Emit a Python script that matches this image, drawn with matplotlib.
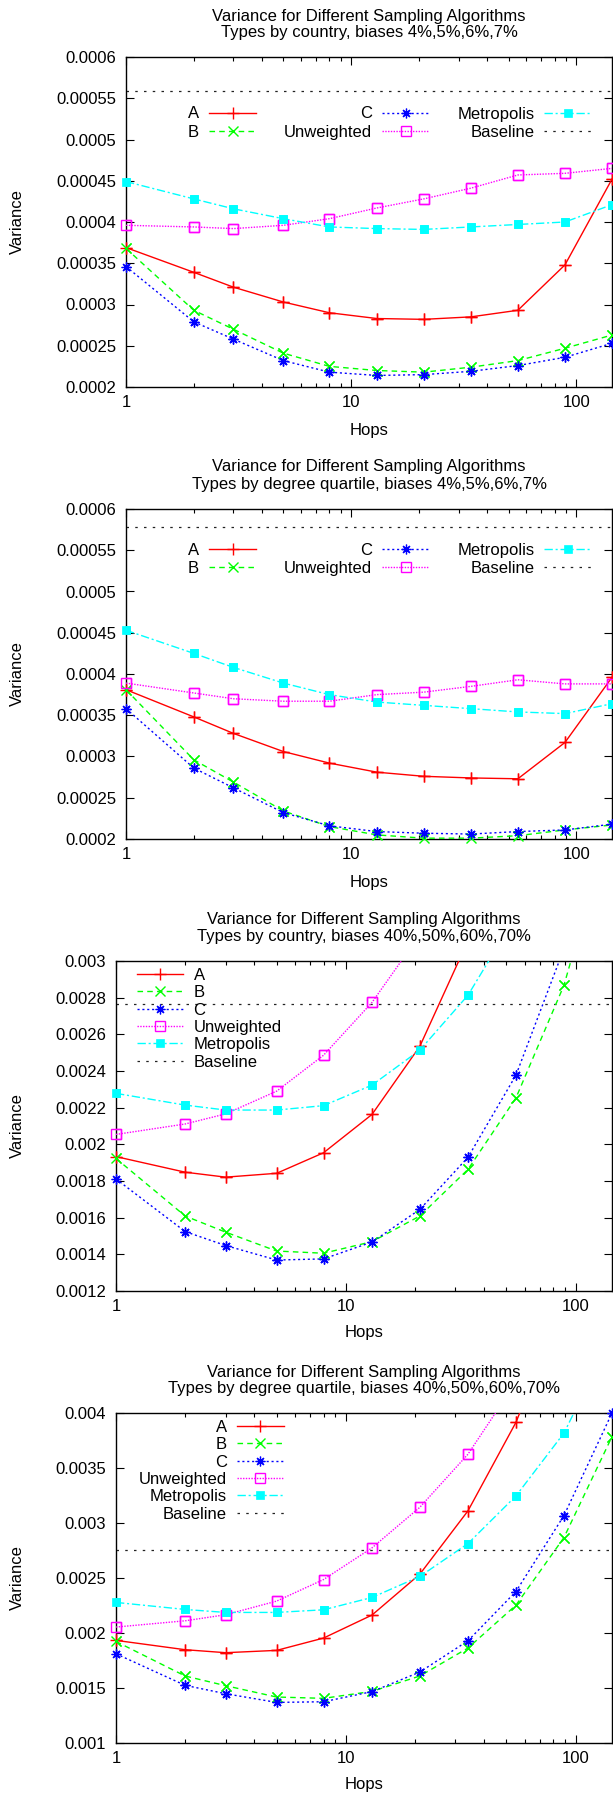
import numpy as np
import matplotlib
matplotlib.use('Agg')
import matplotlib.pyplot as plt
from matplotlib.ticker import FixedLocator, LogLocator, NullFormatter, FuncFormatter

plt.rcParams['font.family'] = ['Liberation Sans', 'DejaVu Sans']
plt.rcParams['font.size'] = 12

W, H = 613, 1793

# --- Data ---

HOPS = [1, 2, 3, 5, 8, 13, 21, 34, 55, 89, 144]
SERIES = ['A', 'B', 'C', 'Unweighted', 'Metropolis']

# types by country, biases 4%,5%,6%,7%
country_small_a = [0.000369, 0.000339, 0.000321, 0.000303, 0.000290, 0.000283,
                   0.000282, 0.000285, 0.000293, 0.000348, 0.000452]
country_small_b = [0.000368, 0.000293, 0.000270, 0.000241, 0.000225, 0.000220,
                   0.000218, 0.000224, 0.000232, 0.000247, 0.000263]
country_small_c = [0.000346, 0.000279, 0.000258, 0.000232, 0.000218, 0.000214,
                   0.000215, 0.000219, 0.000226, 0.000236, 0.000253]
country_small_unweighted = [0.000396, 0.000394, 0.000392, 0.000396, 0.000404, 0.000417,
                            0.000428, 0.000441, 0.000457, 0.000459, 0.000465]
country_small_metropolis = [0.000449, 0.000428, 0.000416, 0.000404, 0.000394, 0.000392,
                            0.000391, 0.000394, 0.000397, 0.000400, 0.000421]
country_small_baseline = 0.000559

# types by degree quartile, biases 4%,5%,6%,7%
degree_small_a = [0.000381, 0.000348, 0.000328, 0.000306, 0.000292, 0.000281,
                  0.000276, 0.000274, 0.000273, 0.000317, 0.000396]
degree_small_b = [0.000381, 0.000296, 0.000269, 0.000234, 0.000215, 0.000205,
                  0.000201, 0.000201, 0.000204, 0.000211, 0.000217]
degree_small_c = [0.000358, 0.000286, 0.000262, 0.000232, 0.000216, 0.000209,
                  0.000207, 0.000206, 0.000209, 0.000211, 0.000218]
degree_small_unweighted = [0.000389, 0.000377, 0.000370, 0.000367, 0.000367, 0.000375,
                           0.000378, 0.000385, 0.000393, 0.000388, 0.000388]
degree_small_metropolis = [0.000453, 0.000425, 0.000408, 0.000389, 0.000375, 0.000366,
                           0.000362, 0.000358, 0.000354, 0.000352, 0.000364]
degree_small_baseline = 0.000578

# biases 40%,50%,60%,70% (both type splits give the same curves)
large_a = [0.001933, 0.001848, 0.001821, 0.001842, 0.001954, 0.002163,
           0.002535, 0.003110, 0.003915, 0.005000, 0.006800]
large_b = [0.001923, 0.001609, 0.001521, 0.001418, 0.001406, 0.001469,
           0.001609, 0.001863, 0.002253, 0.002868, 0.003785]
large_c = [0.001811, 0.001524, 0.001448, 0.001369, 0.001375, 0.001467,
           0.001645, 0.001929, 0.002377, 0.003068, 0.004000]
large_unweighted = [0.002054, 0.002111, 0.002166, 0.002290, 0.002486, 0.002774,
                    0.003143, 0.003625, 0.004280, 0.005100, 0.006200]
large_metropolis = [0.002278, 0.002214, 0.002187, 0.002187, 0.002211, 0.002323,
                    0.002514, 0.002813, 0.003246, 0.003818, 0.004700]
country_large_baseline = 0.002767
degree_large_baseline = 0.002753

TITLE_TOP = 'Variance for Different Sampling Algorithms'

# --- Styles ---

LINE_STYLE = {
    'A': dict(color='#ff0000', linestyle='-'),
    'B': dict(color='#00ff00', dashes=(4, 3)),
    'C': dict(color='#0000ff', dashes=(1.5, 2)),
    'Unweighted': dict(color='#ff00ff', dashes=(1, 1)),
    'Metropolis': dict(color='#00ffff', dashes=(6, 2, 1.5, 2)),
}
MARK_STYLE = {
    'A': dict(marker='+', markersize=8, markeredgewidth=1.0),
    'B': dict(marker='x', markersize=6.5, markeredgewidth=1.0),
    'C': dict(marker=(8, 2, 0), markersize=7, markeredgewidth=0.9),
    'Unweighted': dict(marker='s', markersize=6.5, markerfacecolor='none', markeredgewidth=1.0),
    'Metropolis': dict(marker='s', markersize=6, markeredgewidth=0.5),
}


def fig_rect(left, top, right, bottom):
    return [left / W, 1 - bottom / H, (right - left) / W, (bottom - top) / H]


def draw_panel(fig, geom, subtitle, curves, baseline, ylim, yticks, title_y, label_y, legend_kw):
    left, top, right, bottom = geom
    ax = fig.add_axes(fig_rect(left, top, right, bottom))
    ylo, yhi = ylim

    for name in SERIES:
        vals = np.array(curves[name])
        ax.plot(HOPS, vals, lw=1.0, label=name, color=LINE_STYLE[name]['color'],
                **{k: v for k, v in LINE_STYLE[name].items() if k != 'color'},
                **MARK_STYLE[name], zorder=3)
        # points sitting on the frame are drawn whole, like gnuplot does
        inside = (vals >= ylo) & (vals <= yhi)
        ax.plot(np.array(HOPS)[inside], vals[inside], ls='none', clip_on=False,
                color=LINE_STYLE[name]['color'], **MARK_STYLE[name], zorder=4)

    ax.axhline(baseline, color='#222222', lw=0.9, dashes=(2, 5), label='Baseline', zorder=2)

    ax.set_xscale('log')
    ax.set_xlim(1, 144)
    ax.set_ylim(ylo, yhi)
    ax.xaxis.set_major_locator(FixedLocator([1, 10, 100]))
    ax.xaxis.set_major_formatter(FuncFormatter(lambda v, p: '%g' % v))
    ax.xaxis.set_minor_locator(LogLocator(base=10, subs=np.arange(2, 10)))
    ax.xaxis.set_minor_formatter(NullFormatter())
    ax.yaxis.set_major_locator(FixedLocator(yticks))
    ax.yaxis.set_major_formatter(FuncFormatter(lambda v, p: '%g' % round(v, 8)))

    ax.tick_params(which='both', direction='in', top=True, right=True, labelsize=12)
    ax.tick_params(which='major', length=6, width=0.8)
    ax.tick_params(which='minor', length=3, width=0.8)
    ax.tick_params(axis='x', which='major', pad=6)
    ax.tick_params(axis='y', which='major', pad=7)
    for sp in ax.spines.values():
        sp.set_linewidth(1.0)

    cx = (left + right) / 2
    fig.text(cx / W, 1 - title_y[0] / H, TITLE_TOP, ha='center', va='center', fontsize=12)
    fig.text(cx / W, 1 - title_y[1] / H, subtitle, ha='center', va='center', fontsize=12)
    fig.text(cx / W, 1 - label_y / H, 'Hops', ha='center', va='center', fontsize=12)
    fig.text(17.6 / W, 1 - ((top + bottom) / 2) / H, 'Variance', rotation=90,
             ha='center', va='center', fontsize=12)

    ax.legend(frameon=False, borderpad=0, borderaxespad=0, handlelength=2.8,
              handletextpad=0.6, fontsize=12, **legend_kw)
    return ax


fig = plt.figure(figsize=(W / 100, H / 100), dpi=100)

draw_panel(fig, (126, 57, 612, 387), 'Types by country, biases 4%,5%,6%,7%',
           {'A': country_small_a, 'B': country_small_b, 'C': country_small_c,
            'Unweighted': country_small_unweighted, 'Metropolis': country_small_metropolis},
           country_small_baseline, (0.0002, 0.0006), np.arange(0.0002, 0.00061, 0.00005),
           (16, 33), 430,
           dict(loc='upper right', bbox_to_anchor=(0.957, 0.85), ncol=3,
                markerfirst=False, columnspacing=1.7, labelspacing=0.2))

draw_panel(fig, (126, 509, 612, 839), 'Types by degree quartile, biases 4%,5%,6%,7%',
           {'A': degree_small_a, 'B': degree_small_b, 'C': degree_small_c,
            'Unweighted': degree_small_unweighted, 'Metropolis': degree_small_metropolis},
           degree_small_baseline, (0.0002, 0.0006), np.arange(0.0002, 0.00061, 0.00005),
           (467, 484), 882,
           dict(loc='upper right', bbox_to_anchor=(0.957, 0.898), ncol=3,
                markerfirst=False, columnspacing=1.7, labelspacing=0.2))

large_curves = {'A': large_a, 'B': large_b, 'C': large_c,
                'Unweighted': large_unweighted, 'Metropolis': large_metropolis}

draw_panel(fig, (116, 961, 612, 1291), 'Types by country, biases 40%,50%,60%,70%',
           large_curves, country_large_baseline, (0.0012, 0.003),
           np.arange(0.0012, 0.00301, 0.0002), (919, 937), 1333,
           dict(loc='upper left', bbox_to_anchor=(0.042, 0.979), ncol=1,
                markerfirst=True, labelspacing=0.14))

draw_panel(fig, (116, 1413, 612, 1743), 'Types by degree quartile, biases 40%,50%,60%,70%',
           large_curves, degree_large_baseline, (0.001, 0.004),
           np.arange(0.001, 0.00401, 0.0005), (1372, 1389), 1785,
           dict(loc='upper left', bbox_to_anchor=(0.046, 0.979), ncol=1,
                markerfirst=False, labelspacing=0.14))

fig.savefig('out.png', dpi=100)
